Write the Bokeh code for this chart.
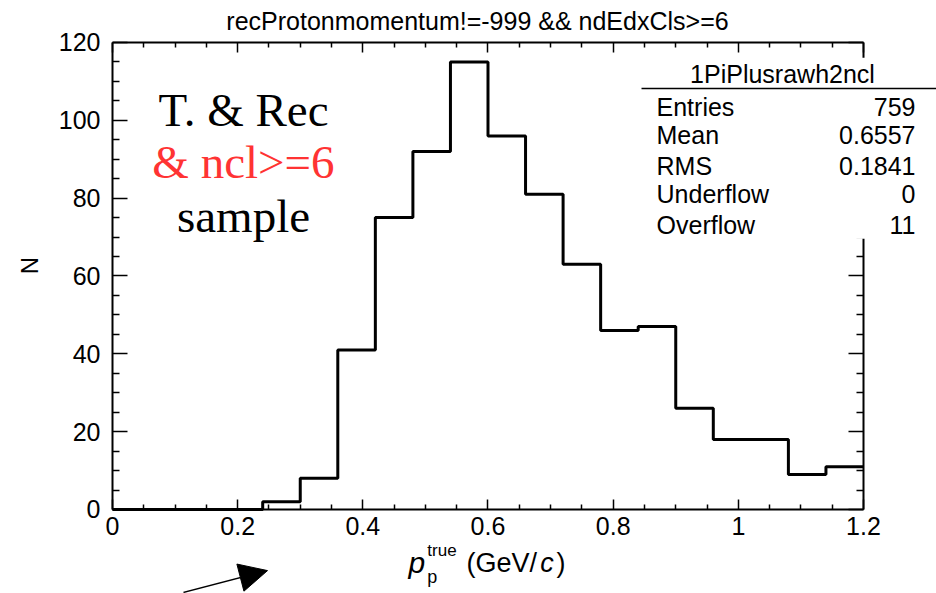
import math
from bokeh.plotting import figure
from bokeh.models import (FixedTicker, LinearAxis, Label, BoxAnnotation, Arrow,
                          NormalHead, Range1d)
from bokeh.embed import file_html
from bokeh.resources import INLINE

# ---------------- data ----------------
bin_edges = [0.00, 0.06, 0.12, 0.18, 0.24, 0.30, 0.36, 0.42, 0.48, 0.54, 0.60,
             0.66, 0.72, 0.78, 0.84, 0.90, 0.96, 1.02, 1.08, 1.14, 1.20]
counts = [0, 0, 0, 0, 2, 8, 41, 75, 92, 115, 96, 81, 63, 46, 47, 26, 18, 18, 9, 11]

x_ticks = [0, 0.2, 0.4, 0.6, 0.8, 1.0, 1.2]
x_tick_labels = ["0", "0.2", "0.4", "0.6", "0.8", "1", "1.2"]
x_minor = [0.05, 0.1, 0.15, 0.25, 0.3, 0.35, 0.45, 0.5, 0.55, 0.65, 0.7, 0.75,
           0.85, 0.9, 0.95, 1.05, 1.1, 1.15]
y_ticks = [0, 20, 40, 60, 80, 100, 120]
y_minor = [5, 10, 15, 25, 30, 35, 45, 50, 55, 65, 70, 75, 85, 90, 95, 105, 110, 115]

plot_title = "recProtonmomentum!=-999 && ndEdxCls>=6"
stats_name = "1PiPlusrawh2ncl"
stats_keys = ["Entries", "Mean", "RMS", "Underflow", "Overflow"]
stats_vals = ["759", "0.6557", "0.1841", "0", "11"]
sample_lines = ["T. & Rec", "& ncl>=6", "sample"]

SANS = "Liberation Sans"
SERIF = "Liberation Serif"

X0, X1 = 0.0, 1.2      # histogram axis range
Y0, Y1 = 0.0, 120.0

# The frame covers the whole canvas; axes are pinned inside it.
p = figure(width=936, height=593,
           x_range=Range1d(-0.17896, 1.31665), y_range=Range1d(-21.585, 130.79),
           output_backend="svg", toolbar_location=None,
           min_border_left=0, min_border_right=0, min_border_top=0,
           min_border_bottom=0)
p.xgrid.visible = False
p.ygrid.visible = False
p.xaxis.visible = False
p.yaxis.visible = False
p.outline_line_color = None
p.background_fill_color = "white"
p.border_fill_color = "white"
p.title.visible = False

xt = FixedTicker(ticks=x_ticks, minor_ticks=x_minor)
yt = FixedTicker(ticks=y_ticks, minor_ticks=y_minor)


def make_axis(ticker, loc, bounds, major, minor, labels=True):
    ax = LinearAxis(ticker=ticker, fixed_location=loc, bounds=bounds)
    ax.axis_line_width = 2
    ax.axis_line_color = "black"
    ax.major_tick_in = major
    ax.major_tick_out = 0
    ax.minor_tick_in = minor
    ax.minor_tick_out = 0
    ax.major_tick_line_width = 1.5
    ax.minor_tick_line_width = 1.5
    ax.major_tick_line_color = "black"
    ax.minor_tick_line_color = "black"
    if labels:
        ax.major_label_text_font = SANS
        ax.major_label_text_font_size = "25px"
        ax.major_label_text_color = "black"
    else:
        ax.major_label_text_color = None
    return ax


bottom = make_axis(xt, Y0, (X0, X1), 10, 5)
bottom.major_label_overrides = dict(zip(x_ticks, x_tick_labels))
bottom.major_label_standoff = 8
p.add_layout(bottom, "below")

left = make_axis(yt, X0, (Y0, Y1), 15, 7)
left.major_label_standoff = 12
p.add_layout(left, "left")

top = make_axis(xt, Y1, (X0, X1), 10, 5, labels=False)
p.add_layout(top, "above")

right = make_axis(yt, X1, (Y0, Y1), 15, 7, labels=False)
p.add_layout(right, "right")

# ---------------- histogram ----------------
xs = bin_edges[:-1] + [bin_edges[-1]]
ys = counts + [counts[-1]]
p.step(x=xs, y=ys, mode="after", line_color="black", line_width=3)


def lab(x, y, text, size, font=SANS, align="left", color="black", style="normal",
        angle=0.0):
    p.add_layout(Label(x=x, y=y, text=text, text_align=align,
                       text_baseline="middle", text_font=font,
                       text_font_size=size, text_color=color,
                       text_font_style=style, angle=angle))


# ---------------- stats box ----------------
p.add_layout(BoxAnnotation(left=0.8453, right=1.5, bottom=69.6, top=116.1,
                           fill_color="white", fill_alpha=1.0, line_color=None,
                           level="annotation"))
p.add_layout(Arrow(x_start=0.8453, y_start=108.2, x_end=1.5, y_end=108.2,
                   start=None, end=None, line_color="black", line_width=1.5))
lab(1.0706, 111.83, stats_name, "25px", align="center")
row_y = [103.5, 96.15, 88.39, 80.99, 73.05]
for k, v, yy in zip(stats_keys, stats_vals, row_y):
    lab(0.8693, yy, k, "25px")
    lab(1.2831, yy, v, "25px", align="right")

# ---------------- sample text ----------------
for txt, yy, col in zip(sample_lines, [102.73, 89.24, 75.42],
                        ["black", "#ff3333", "black"]):
    lab(0.2093, yy, txt, "47px", font=SERIF, align="center", color=col)

# ---------------- title ----------------
lab(0.5832, 125.45, plot_title, "25px", align="center")

# ---------------- axis titles ----------------
lab(-0.1326, 62.70, "N", "24px", align="center", angle=math.pi / 2)

lab(0.4730, -13.52, "p", "30px", style="italic")
lab(0.5031, -10.56, "true", "17px")
lab(0.5031, -17.42, "p", "18px")
lab(0.5657, -13.77, "(GeV/", "27px")
lab(0.6835, -13.77, "c", "27px", style="italic")
lab(0.7095, -13.77, ")", "27px")

# ---------------- arrow ----------------
p.add_layout(Arrow(x_start=0.1134, y_start=-21.3, x_end=0.2477, y_end=-15.7,
                   line_color="black", line_width=1.5,
                   end=NormalHead(size=28, fill_color="black", line_color="black")))

open("out.html", "w").write(file_html(p, INLINE))
